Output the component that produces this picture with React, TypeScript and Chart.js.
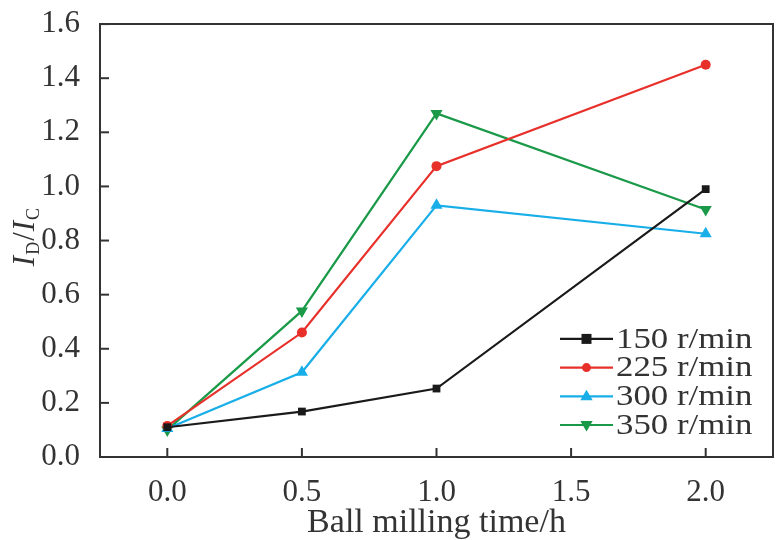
import React, { useEffect, useRef } from "react";
import { Chart, registerables } from "chart.js";

Chart.register(...registerables);

const xValues = [0, 0.5, 1.0, 2.0];
const xTicks = [0, 0.5, 1.0, 1.5, 2.0];
const yTicks = [0, 0.2, 0.4, 0.6, 0.8, 1.0, 1.2, 1.4, 1.6];
const seriesNames = ["150 r/min", "225 r/min", "300 r/min", "350 r/min"];
const s150 = [0.11, 0.168, 0.253, 0.99];
const s225 = [0.115, 0.46, 1.075, 1.45];
const s300 = [0.105, 0.313, 0.93, 0.825];
const s350 = [0.1, 0.54, 1.27, 0.915];

const colors = ["#1a1a1a", "#e8302a", "#18aee8", "#1a9a48"];
const styles: any[] = ["rect", "circle", "triangle", "triangle"];
const rotations = [0, 0, 0, 180];
const radii = [5.5, 5, 7, 7];
const FONT = "'Liberation Serif', 'Times New Roman', serif";
const TEXT = "#333";

function drawMarker(ctx: any, style: string, x: number, y: number, r: number, rot: number) {
  ctx.save();
  ctx.translate(x, y);
  ctx.rotate((rot * Math.PI) / 180);
  ctx.beginPath();
  if (style === "rect") {
    ctx.rect(-r, -r, 2 * r, 2 * r);
  } else if (style === "circle") {
    ctx.arc(0, 0, r, 0, Math.PI * 2);
  } else {
    ctx.moveTo(0, -r);
    ctx.lineTo(r * 0.95, r * 0.6);
    ctx.lineTo(-r * 0.95, r * 0.6);
    ctx.closePath();
  }
  ctx.fill();
  ctx.restore();
}

function seg(ctx: any, x1: number, y1: number, x2: number, y2: number) {
  ctx.beginPath();
  ctx.moveTo(x1, y1);
  ctx.lineTo(x2, y2);
  ctx.stroke();
}

export default function App() {
  const ref = useRef<HTMLCanvasElement>(null);
  useEffect(() => {
    document.body.style.margin = "0";
    document.body.style.overflow = "hidden";
    const all = [s150, s225, s300, s350];
    const frame = {
      id: "frame",
      afterDraw(chart: any) {
        const { ctx, chartArea: a, scales } = chart;
        ctx.save();
        ctx.strokeStyle = TEXT;
        ctx.lineWidth = 2;
        ctx.lineCap = "square";
        seg(ctx, a.left, a.top, a.right, a.top);
        seg(ctx, a.right, a.top, a.right, a.bottom);
        seg(ctx, a.left, a.bottom, a.right, a.bottom);
        seg(ctx, a.left, a.top, a.left, a.bottom);
        ctx.lineCap = "butt";
        xTicks.forEach((v) => {
          const px = scales.x.getPixelForValue(v);
          seg(ctx, px, a.bottom, px, a.bottom - 9);
        });
        yTicks.forEach((v) => {
          const py = scales.y.getPixelForValue(v);
          seg(ctx, a.left, py, a.left + 9, py);
        });
        ctx.restore();

        // y title: I_D/I_C
        ctx.save();
        ctx.translate(24, (a.top + a.bottom) / 2 - 4);
        ctx.rotate(-Math.PI / 2);
        ctx.fillStyle = TEXT;
        ctx.textBaseline = "alphabetic";
        const big = "italic 31px " + FONT;
        const big2 = "31px " + FONT;
        const small = "18px " + FONT;
        const parts: [string, string, number][] = [
          ["I", big, 0],
          ["D", small, 5],
          ["/", big2, 0],
          ["I", big, 0],
          ["C", small, 5],
        ];
        let total = 0;
        parts.forEach(([t, f]) => {
          ctx.font = f;
          total += ctx.measureText(t).width + 1;
        });
        let x = -total / 2;
        parts.forEach(([t, f, dy]) => {
          ctx.font = f;
          ctx.fillText(t, x, 10 + dy);
          x += ctx.measureText(t).width + 1;
        });
        ctx.restore();

        // legend
        ctx.save();
        const rowH = 28.7;
        const lx0 = a.right - 213;
        const lx1 = lx0 + 53;
        const baseY = a.bottom - 32 - rowH * 3;
        seriesNames.forEach((name, i) => {
          const y = baseY + rowH * i;
          ctx.strokeStyle = colors[i];
          ctx.lineWidth = 2.2;
          seg(ctx, lx0, y, lx1, y);
          ctx.fillStyle = colors[i];
          drawMarker(ctx, styles[i], (lx0 + lx1) / 2, y, radii[i] - 0.5, rotations[i]);
          ctx.save();
          ctx.fillStyle = TEXT;
          ctx.font = "30px " + FONT;
          ctx.textBaseline = "middle";
          ctx.translate(lx1 + 3, y + 1);
          ctx.scale(1.16, 1);
          ctx.fillText(name, 0, 0);
          ctx.restore();
        });
        ctx.restore();
      },
    };
    const chart = new Chart(ref.current!, {
      type: "line",
      data: {
        datasets: all.map((vals, i) => ({
          label: seriesNames[i],
          data: xValues.map((x, j) => ({ x, y: vals[j] })),
          borderColor: colors[i],
          backgroundColor: colors[i],
          borderWidth: 2.2,
          pointStyle: styles[i],
          pointRotation: rotations[i],
          pointRadius: radii[i],
          pointBorderWidth: 0,
          tension: 0,
        })),
      },
      options: {
        animation: false,
        responsive: false,
        layout: { padding: { top: 0, right: 2, left: 0, bottom: 0 } },
        plugins: { legend: { display: false }, tooltip: { enabled: false } },
        scales: {
          x: {
            type: "linear",
            min: -0.25,
            max: 2.25,
            afterBuildTicks: (s: any) => {
              s.ticks = xTicks.map((v) => ({ value: v }));
            },
            afterFit: (s: any) => {
              s.height = 83;
            },
            grid: { display: false },
            border: { display: false },
            ticks: {
              color: TEXT,
              font: { family: FONT, size: 31, lineHeight: 1 },
              padding: 12,
              callback: (v: any) => Number(v).toFixed(1),
            },
            title: {
              display: true,
              text: "Ball milling time/h",
              color: TEXT,
              font: { family: FONT, size: 34, lineHeight: 1 },
              padding: { top: 4, bottom: 0 },
            },
          },
          y: {
            min: 0,
            max: 1.6,
            afterBuildTicks: (s: any) => {
              s.ticks = yTicks.map((v) => ({ value: v }));
            },
            afterFit: (s: any) => {
              s.width = 100;
            },
            grid: { display: false },
            border: { display: false },
            ticks: {
              color: TEXT,
              font: { family: FONT, size: 31, lineHeight: 0.78 },
              padding: 12,
              callback: (v: any) => Number(v).toFixed(1),
            },
          },
        },
      } as any,
      plugins: [frame],
    });
    return () => chart.destroy();
  }, []);
  return (
    <div style={{ width: 780, height: 540, background: "#fff", overflow: "hidden" }}>
      <canvas ref={ref} width={780} height={540} style={{ display: "block", width: 780, height: 540 }} />
    </div>
  );
}
